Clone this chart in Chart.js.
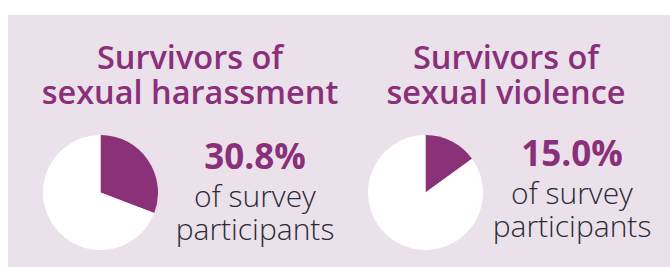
<!DOCTYPE html>
<html>
<head>
<meta charset="utf-8">
<script src="https://cdn.jsdelivr.net/npm/chart.js@4/dist/chart.umd.min.js"></script>
<style>
  html, body { margin: 0; padding: 0; background: #ffffff; width: 670px; height: 267px; overflow: hidden; }
  #panel { position: absolute; left: 8px; top: 15px; width: 662px; height: 252px; background: #EBE1EA; }
  .line { position: absolute; text-align: center; font-family: "Open Sans", sans-serif; white-space: nowrap; }
  .title { width: 360px; font-weight: 600; font-size: 32.5px; line-height: 34px; height: 34px; color: #8A2F7A; }
  .pct { width: 200px; font-weight: 700; font-size: 35px; line-height: 34px; height: 34px; color: #8A2F7A; }
  .sub { width: 200px; font-weight: 300; font-size: 30px; line-height: 33px; height: 33px; color: #2A2B36; }
  canvas.pie { position: absolute; }
</style>
</head>
<body>
<div id="panel"></div>
<div id="root"></div>
<script>
// ---- data ----
const categories = ["Survivors of sexual harassment", "Survivors of sexual violence"];
const titleLines = [["Survivors of", "sexual harassment"], ["Survivors of", "sexual violence"]];
const percentages = [30.8, 15.0];
const subLabel = ["of survey", "participants"];
const sliceLabels = ["Survivors", "Other participants"];

// ---- layout (positions only) ----
const layout = [
  { titleCx: 190, titleBase: 70, pieLeft: 43, pieTop: 135, pieSize: 115, textCx: 255, pctBase: 170, subBase: 207 },
  { titleCx: 506, titleBase: 70, pieLeft: 368, pieTop: 135, pieSize: 115, textCx: 572, pctBase: 167, subBase: 204 }
];

// place a single text line so that its baseline lands at `base`
function addLine(cls, text, cx, base, fs, lh, w) {
  const d = document.createElement('div');
  d.className = 'line ' + cls;
  d.textContent = text;
  const off = (lh - 1.362 * fs) / 2 + 1.069 * fs;
  d.style.left = (cx - w / 2) + 'px';
  d.style.top = Math.round(base - off) + 'px';
  document.getElementById('root').appendChild(d);
}

categories.forEach((cat, i) => {
  const L = layout[i];
  titleLines[i].forEach((txt, k) => addLine('title', txt, L.titleCx, L.titleBase + k * 34.5, 32.5, 34, 360));
  addLine('pct', percentages[i].toFixed(1) + '%', L.textCx, L.pctBase, 35, 34, 200);
  subLabel.forEach((txt, k) => addLine('sub', txt, L.textCx, L.subBase + k * 33, 30, 33, 200));

  const c = document.createElement('canvas');
  c.className = 'pie';
  c.width = L.pieSize; c.height = L.pieSize;
  c.style.left = L.pieLeft + 'px';
  c.style.top = L.pieTop + 'px';
  c.style.width = L.pieSize + 'px';
  c.style.height = L.pieSize + 'px';
  document.getElementById('root').appendChild(c);

  new Chart(c, {
    type: 'pie',
    data: {
      labels: sliceLabels,
      datasets: [{
        label: cat,
        data: [percentages[i], 100 - percentages[i]],
        backgroundColor: ['#8A3178', '#FFFFFF'],
        borderWidth: 0,
        hoverOffset: 0,
        offset: 0
      }]
    },
    options: {
      responsive: false,
      animation: false,
      devicePixelRatio: 1,
      layout: { padding: 0 },
      plugins: { legend: { display: false }, tooltip: { enabled: false }, title: { display: false } }
    }
  });
});
</script>
</body>
</html>
